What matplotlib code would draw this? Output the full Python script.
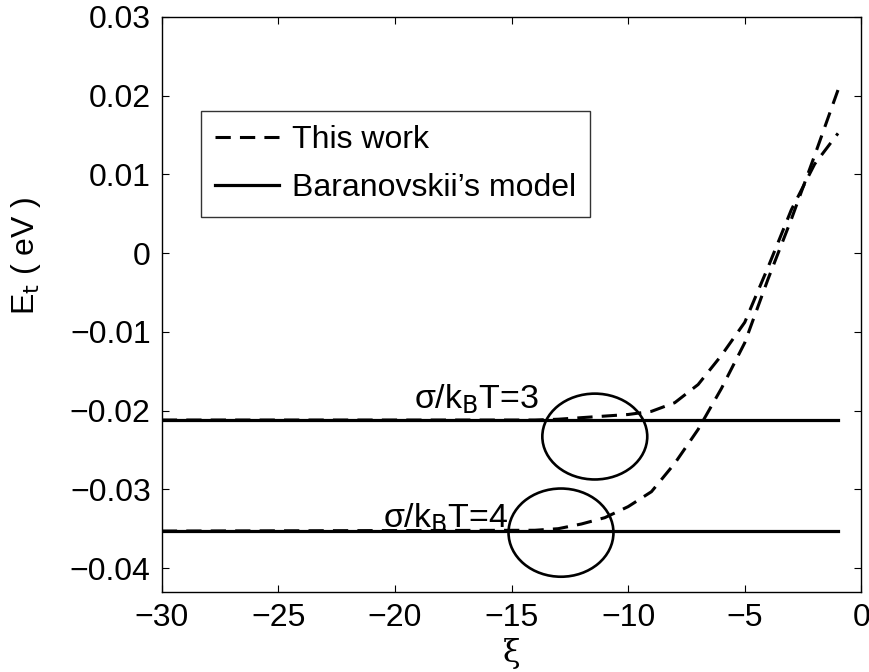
import matplotlib
matplotlib.use("Agg")
import matplotlib.pyplot as plt
from matplotlib.patches import Ellipse

# transport energy vs xi for two disorder strengths
xi = [-30, -14, -13, -12, -11, -10, -9, -8, -7, -6, -5, -4, -3, -2, -1]
et_s3 = [-0.0212, -0.0212, -0.0211, -0.0209, -0.0207, -0.0205, -0.0201, -0.0190,
         -0.0167, -0.0130, -0.0088, -0.0018, 0.0055, 0.0113, 0.0152]
et_s4 = [-0.0353, -0.0352, -0.0350, -0.0344, -0.0336, -0.0322, -0.0303, -0.0267,
         -0.0224, -0.0172, -0.0114, -0.0033, 0.0043, 0.0124, 0.0207]

# Baranovskii's model: constant level, independent of xi
xi_flat = [-30, -1]
et_bar_s3 = -0.0212
et_bar_s4 = -0.0353

labels = ["σ/k$_\\mathrm{B}$T=3", "σ/k$_\\mathrm{B}$T=4"]

plt.rcParams.update({
    "font.family": ["Liberation Sans", "DejaVu Sans"],
    "font.size": 23,
    "mathtext.default": "regular",
    "axes.linewidth": 1.0,
})

fig = plt.figure(figsize=(8.7, 6.72), dpi=100)
ax = fig.add_axes([0.186, 0.1195, 0.804, 0.8555])

dash = (0, (5, 3))
ax.plot(xi, et_s3, color="black", lw=2.2, ls=dash, label="This work")
ax.plot(xi, et_s4, color="black", lw=2.2, ls=dash)
ax.plot(xi_flat, [et_bar_s3] * 2, color="black", lw=2.3, label="Baranovskii’s model")
ax.plot(xi_flat, [et_bar_s4] * 2, color="black", lw=2.3)

# circles marking where the two models meet
ax.add_patch(Ellipse((-11.43, -0.0233), 4.5, 0.0109, fill=False, ec="black", lw=1.9))
ax.add_patch(Ellipse((-12.88, -0.0355), 4.5, 0.0112, fill=False, ec="black", lw=1.9))

ax.text(-19.2, -0.0197, labels[0], ha="left", va="baseline", fontsize=24.5)
ax.text(-20.5, -0.0348, labels[1], ha="left", va="baseline", fontsize=24.5)

ax.set_xlim(-30, 0)
ax.set_ylim(-0.0430, 0.03)
ax.set_xticks([-30, -25, -20, -15, -10, -5, 0])
ax.set_yticks([-0.04, -0.03, -0.02, -0.01, 0, 0.01, 0.02, 0.03])
ax.set_yticklabels(["−0.04", "−0.03", "−0.02", "−0.01", "0", "0.01", "0.02", "0.03"])
ax.set_xticklabels(["−30", "−25", "−20", "−15", "−10", "−5", "0"])
ax.tick_params(direction="in", length=5, width=0.8, top=True, right=True, pad=8)

ax.set_xlabel("ξ", family="DejaVu Serif", fontsize=23)
ax.xaxis.set_label_coords(0.5, -0.08)
ax.set_ylabel("E$_\\mathrm{t}$ ( eV )")
ax.yaxis.set_label_coords(-0.17, 0.585)

leg = ax.legend(loc="upper left", bbox_to_anchor=(0.0558, 0.8365), fontsize=23,
                handlelength=2.0, handletextpad=0.4, borderpad=0.45,
                labelspacing=0.55, borderaxespad=0, fancybox=False)
leg.get_frame().set_edgecolor("black")
leg.get_frame().set_linewidth(1.0)

fig.savefig("out.png", dpi=100)
